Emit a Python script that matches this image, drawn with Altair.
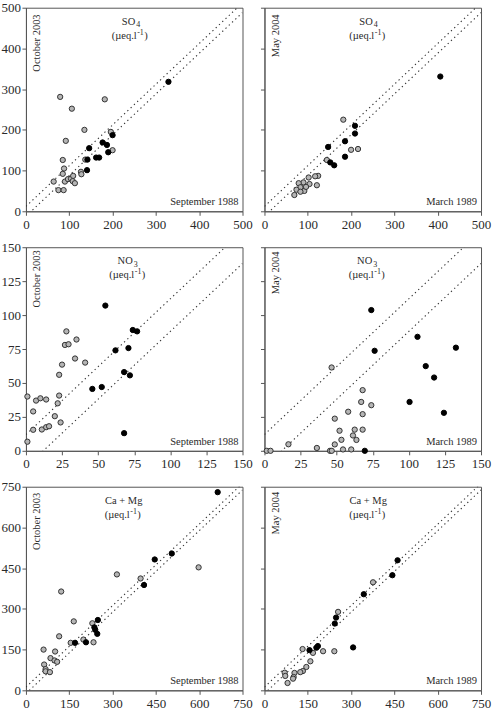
import altair as alt
import pandas as pd

FONT = "Liberation Serif"
INK = "#2a2a2a"
FRAME = "#555555"
OPEN_FILL = "#b5b5b5"

# ---- SO4: September 1988 (x) vs October 2003 (y) ----
so4_oct_open_x = [79, 182, 106, 135, 92, 196, 200, 85, 88, 85, 64, 75, 87, 90, 97, 104, 109, 108, 113, 127, 128, 137]
so4_oct_open_y = [281, 275, 252, 200, 173, 195, 150, 126, 105, 92, 73, 52, 52, 73, 79, 80, 87, 74, 69, 97, 91, 127]
so4_oct_fill_x = [329, 200, 177, 187, 190, 146, 142, 162, 169, 141]
so4_oct_fill_y = [318, 187, 169, 163, 145, 155, 127, 132, 132, 101]

# ---- SO4: March 1989 (x) vs May 2004 (y) ----
so4_may_open_x = [182, 200, 216, 144, 124, 117, 102, 121, 90, 79, 104, 83, 74, 92, 83, 69, 96]
so4_may_open_y = [225, 151, 153, 126, 87, 86, 83, 64, 71, 69, 67, 59, 53, 50, 48, 40, 60]
so4_may_fill_x = [406, 209, 209, 186, 147, 186, 152, 161]
so4_may_fill_y = [331, 210, 191, 172, 158, 134, 120, 113]

# ---- NO3: September 1988 (x) vs October 2003 (y) ----
no3_oct_open_x = [28, 27, 29.5, 35, 34, 41, 25, 23, 23, 22, 1, 7, 10, 14, 5, 20, 24, 5, 11, 14, 16, 1]
no3_oct_open_y = [88, 78, 78.5, 82, 68, 65, 63.5, 56, 40.7, 35, 40, 37, 38.7, 37.8, 29, 25.5, 20.9, 15.5, 15.7, 17.4, 18.1, 6.7]
no3_oct_fill_x = [55, 74, 77, 62, 71, 68, 72, 46, 52.5, 68]
no3_oct_fill_y = [107, 89, 88, 74, 75.7, 58, 55.6, 45.6, 47, 13]

# ---- NO3: March 1989 (x) vs May 2004 (y) ----
no3_may_open_x = [46.5, 68, 67, 74, 58, 68, 48.7, 52, 62.5, 68, 61.3, 63.7, 53.3, 48.7, 16.6, 36.3, 54.4, 60.1, 45.4, 46.6, 1.6, 4.2]
no3_may_open_y = [61.4, 44.7, 36, 33.6, 28.8, 27, 23.7, 14.8, 15.6, 15.6, 11.3, 8, 8.1, 4.7, 4.8, 2.1, 1, 1, 0, 0, 0, 0]
no3_may_fill_x = [74, 76.3, 106, 132.6, 111.7, 117.5, 100.5, 124.3, 69.5]
no3_may_fill_y = [103.7, 73.7, 84, 76, 62.4, 54, 36, 28, 0]

# ---- Ca + Mg: September 1988 (x) vs October 2003 (y) ----
camg_oct_open_x = [598, 315, 397, 122, 165.6, 230, 115, 199, 155, 234, 61, 101, 85, 99, 108, 63, 68, 68, 83]
camg_oct_open_y = [453, 427, 412, 364, 254, 247, 199, 187, 175, 177, 150, 143, 118.6, 110, 105, 95, 78, 70, 67]
camg_oct_fill_x = [664, 505, 446, 409, 249, 237, 240, 247, 208, 170]
camg_oct_fill_y = [730, 504, 482, 388, 259, 232, 223, 208, 177, 175]

# ---- Ca + Mg: March 1989 (x) vs May 2004 (y) ----
camg_may_open_x = [376, 255, 132, 168, 203, 242, 159, 145, 133, 124, 104, 101, 99, 70, 72, 80]
camg_may_open_y = [398, 289, 152, 138, 144, 144, 107, 86, 71, 67, 64, 49, 43, 65, 53, 27]
camg_may_fill_x = [461, 443, 344, 248, 243.5, 307, 185, 180, 156]
camg_may_fill_y = [479, 424, 354, 268, 246, 158, 163, 157, 148]

# offset of the two dotted reference lines around 1:1
BAND = 12

W, H = 217, 204


def text(label, x, y, size=10.5, align="left", baseline="alphabetic", angle=0):
    kw = dict(text=label, font=FONT, fontSize=size, color=INK, align=align, baseline=baseline)
    if angle:
        kw["angle"] = angle
    return alt.Chart(pd.DataFrame({"t": [label]})).mark_text(**kw).encode(
        x=alt.value(x), y=alt.value(y)
    )


def panel(open_x, open_y, fill_x, fill_y, vmax, step, side_label, bottom_label,
          main, sub, cx, vtop, show_y_labels):
    ticks = list(range(0, vmax + 1, step))
    xs = alt.Scale(domain=[0, vmax], nice=False, zero=True)
    ys = alt.Scale(domain=[0, vmax], nice=False, zero=True)
    x_axis = alt.Axis(values=ticks, title=None, grid=False, labelFlush=False,
                      labelOverlap=False, format="d")
    y_axis = alt.Axis(values=ticks, title=None, grid=False, labelFlush=False,
                      labelOverlap=False, labels=show_y_labels, format="d")
    X = lambda: alt.X("x:Q", scale=xs, axis=x_axis)
    Y = lambda: alt.Y("y:Q", scale=ys, axis=y_axis)

    ref = pd.DataFrame({
        "x": [0, vmax, 0, vmax],
        "y": [BAND, vmax + BAND, -BAND, vmax - BAND],
        "line": ["upper", "upper", "lower", "lower"],
    })
    lines = alt.Chart(ref).mark_line(
        color="#333333", strokeWidth=1.1, strokeDash=[1.3, 3.2], clip=True
    ).encode(x=X(), y=Y(), detail="line:N")

    open_pts = alt.Chart(pd.DataFrame({"x": open_x, "y": open_y})).mark_point(
        shape="circle", filled=True, size=28, fill=OPEN_FILL, stroke="#333333",
        strokeWidth=1, opacity=1
    ).encode(x=X(), y=Y())

    fill_pts = alt.Chart(pd.DataFrame({"x": fill_x, "y": fill_y})).mark_point(
        shape="circle", filled=True, size=28, fill="#000000", stroke="#000000",
        strokeWidth=1, opacity=1
    ).encode(x=X(), y=Y())

    layers = [lines, open_pts, fill_pts]

    # species heading, with subscript where needed
    if sub:
        layers.append(text(main, cx + 4.5, 17, align="right"))
        layers.append(text(sub, cx + 5.5, 19.5, size=8))
    else:
        layers.append(text(main, cx, 17, align="center"))
    # unit line: (µeq.l-1) with superscript -1
    layers.append(text("(µeq.l", cx + 6, 31, align="right"))
    layers.append(text("-1", cx + 6.5, 27, size=8))
    layers.append(text(")", cx + 13.5, 31))

    # survey date labels
    layers.append(text(side_label, 14.5, vtop, align="right", angle=270))
    layers.append(text(bottom_label, W - 4, H - 6, align="right"))

    return alt.layer(*layers).properties(width=W, height=H)


p1 = panel(so4_oct_open_x, so4_oct_open_y, so4_oct_fill_x, so4_oct_fill_y, 500, 100,
           "October 2003", "September 1988", "SO", "4", 105, 6.7, True)
p2 = panel(so4_may_open_x, so4_may_open_y, so4_may_fill_x, so4_may_fill_y, 500, 100,
           "May 2004", "March 1989", "SO", "4", 104, 6.7, False)
p3 = panel(no3_oct_open_x, no3_oct_open_y, no3_oct_fill_x, no3_oct_fill_y, 150, 25,
           "October 2003", "September 1988", "NO", "3", 102.5, 3, True)
p4 = panel(no3_may_open_x, no3_may_open_y, no3_may_fill_x, no3_may_fill_y, 150, 25,
           "May 2004", "March 1989", "NO", "3", 103.5, 4.3, False)
p5 = panel(camg_oct_open_x, camg_oct_open_y, camg_oct_fill_x, camg_oct_fill_y, 750, 150,
           "October 2003", "September 1988", "Ca + Mg", "", 98, 6, True)
p6 = panel(camg_may_open_x, camg_may_open_y, camg_may_fill_x, camg_may_fill_y, 750, 150,
           "May 2004", "March 1989", "Ca + Mg", "", 104, 5, False)

chart = alt.concat(
    p1, p2, p3, p4, p5, p6, columns=2, spacing={"row": 36, "column": 22}, bounds="flush"
).properties(
    padding={"left": 0, "top": 0, "right": 0, "bottom": 0},
    background="white",
).configure_axis(
    labelFont=FONT,
    labelFontSize=13,
    labelColor=INK,
    labelPadding=1.5,
    tickColor=FRAME,
    tickSize=4,
    domainColor=FRAME,
    domainWidth=1,
).configure_axisX(
    labelPadding=3,
).configure_view(
    stroke=FRAME,
    strokeWidth=1,
)

chart.save("out.html", embed_options={"renderer": "svg", "actions": False})
